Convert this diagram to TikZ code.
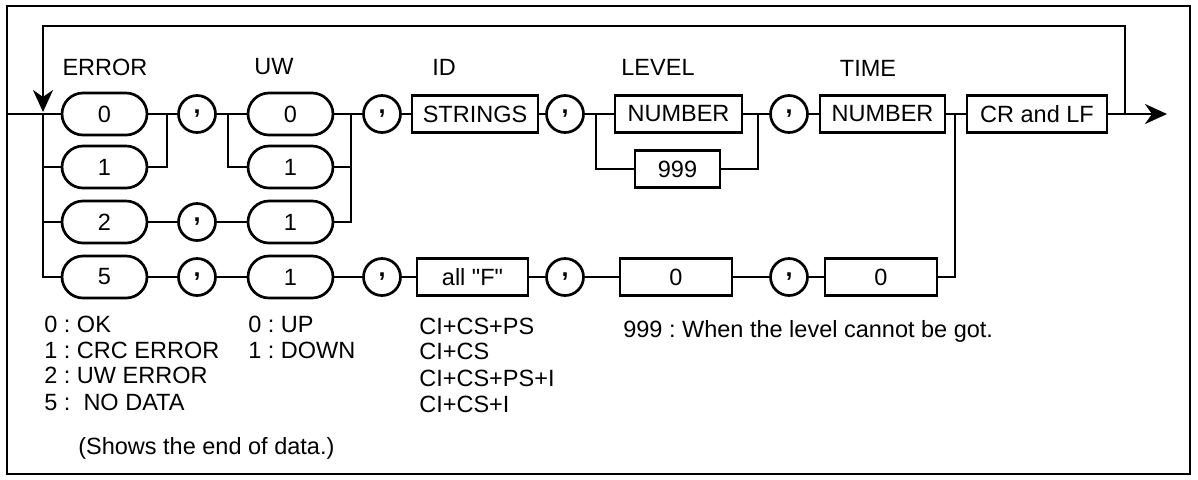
\documentclass[tikz,border=0pt]{standalone}
\usepackage{fontspec}
\setmainfont{Liberation Sans}[Ligatures=TeXOff]
\usetikzlibrary{arrows.meta}
\frenchspacing
\begin{document}
\frenchspacing
\begin{tikzpicture}[x=0.5pt,y=-0.5pt,line width=1.35pt,
  font=\fontsize{11.75}{14}\selectfont,
  capsule/.style={draw,rounded corners=10.5pt,minimum width=42.5pt,minimum height=21pt,inner sep=0pt},
  commacirc/.style={draw,circle,minimum size=18.5pt,inner sep=0pt,font=\fontsize{12.5}{14}\selectfont\bfseries},
  boxnode/.style={draw,minimum height=18.5pt,inner sep=0pt},
  labelnode/.style={inner sep=0pt},
  notetext/.style={inner sep=0pt,anchor=base west},
  arrowline/.style={-{Stealth[length=11pt,width=10pt,inset=3.5pt]}}]
\useasboundingbox (0,0) rectangle (1198,479);
% frame
\draw[line width=1.4pt] (7,6) rectangle (1190,474);

% labels
\node[labelnode] (lerr) at (105,67) {ERROR};
\node[labelnode] (luw) at (274,67) {UW};
\node[labelnode] (lid) at (444,67) {ID};
\node[labelnode] (llev) at (658,67) {LEVEL};
\node[labelnode] (ltime) at (868,68) {TIME};

% error column
\node[capsule] (e0) at (104.5,114) {0};
\node[capsule] (e1) at (104.5,167) {1};
\node[capsule] (e2) at (104.5,222) {2};
\node[capsule] (e5) at (104.5,277) {5};
% commas after error
\node[commacirc] (c1) at (197,114) {,};
\node[commacirc] (c2r) at (197,222) {,};
\node[commacirc] (c5a) at (197,277) {,};
% uw column
\node[capsule] (u0) at (290.5,114) {0};
\node[capsule] (u1) at (290.5,167) {1};
\node[capsule] (u2) at (290.5,222) {1};
\node[capsule] (u5) at (290.5,277) {1};
\node[commacirc] (c2) at (382,114) {,};
\node[commacirc] (c5b) at (382,277) {,};
% id
\node[boxnode,minimum width=63pt] (str) at (475,114) {STRINGS};
\node[boxnode,minimum width=55.5pt] (allf) at (472.5,277) {all "F"};
\node[commacirc] (c3) at (565,114) {,};
\node[commacirc] (c5c) at (565,277) {,};
% level
\node[boxnode,minimum width=63.5pt] (num) at (678.5,114) {NUMBER};
\node[boxnode,minimum width=42.5pt] (n999) at (677.5,169) {999};
\node[boxnode,minimum width=56pt] (z1) at (676,277) {0};
\node[commacirc] (c4) at (789,114) {,};
\node[commacirc] (c5d) at (789,277) {,};
% time
\node[boxnode,minimum width=62.5pt] (tnum) at (882.5,114) {NUMBER};
\node[boxnode,minimum width=56pt] (z2) at (881,277) {0};
\node[boxnode,minimum width=70pt] (crlf) at (1037,114) {CR and LF};

% coordinates
\coordinate (start) at (7,114);
\coordinate (bl) at (43,114);
\coordinate (bl1) at (43,167);
\coordinate (bl2) at (43,222);
\coordinate (bl5) at (43,277);
\coordinate (eb0) at (167,114);
\coordinate (eb1) at (167,167);
\coordinate (ub0) at (228,114);
\coordinate (ub1) at (228,167);
\coordinate (ur0) at (351,114);
\coordinate (ur1) at (351,167);
\coordinate (ur2) at (351,222);
\coordinate (lv0) at (596,114);
\coordinate (lv1) at (596,169);
\coordinate (lr0) at (758,114);
\coordinate (lr1) at (758,169);
\coordinate (tj) at (955,114);
\coordinate (tj5) at (955,277);
\coordinate (lp) at (1125,114);
\coordinate (lpt) at (1125,26);
\coordinate (lpl) at (43,26);
\coordinate (lend) at (43,112);
\coordinate (out) at (1167,114);

% connectors
\draw (start) -- (bl) -- (e0.west);
\draw (bl) -- (bl5) -- (e5.west);
\draw (bl1) -- (e1.west);
\draw (bl2) -- (e2.west);
\draw (e0.east) -- (eb0) -- (c1.west);
\draw (e1.east) -- (eb1) -- (eb0);
\draw (c1.east) -- (ub0) -- (u0.west);
\draw (ub0) -- (ub1) -- (u1.west);
\draw (u0.east) -- (ur0) -- (c2.west);
\draw (u1.east) -- (ur1);
\draw (u2.east) -- (ur2) -- (ur0);
\draw (e2.east) -- (c2r.west);
\draw (c2r.east) -- (u2.west);
\draw (c2.east) -- (str.west);
\draw (str.east) -- (c3.west);
\draw (c3.east) -- (lv0) -- (num.west);
\draw (lv0) -- (lv1) -- (n999.west);
\draw (num.east) -- (lr0) -- (c4.west);
\draw (n999.east) -- (lr1) -- (lr0);
\draw (c4.east) -- (tnum.west);
\draw (tnum.east) -- (tj) -- (crlf.west);
\draw (e5.east) -- (c5a.west);
\draw (c5a.east) -- (u5.west);
\draw (u5.east) -- (c5b.west);
\draw (c5b.east) -- (allf.west);
\draw (allf.east) -- (c5c.west);
\draw (c5c.east) -- (z1.west);
\draw (z1.east) -- (c5d.west);
\draw (c5d.east) -- (z2.west);
\draw (z2.east) -- (tj5) -- (tj);
\draw[arrowline] (crlf.east) -- (out);
\draw[arrowline] (lp) -- (lpt) -- (lpl) -- (lend);

% notes
\node[notetext] (n0) at (43,332) {0 : OK};
\node[notetext] (n1) at (43,358) {1 : CRC ERROR};
\node[notetext] (n2) at (43,383) {2 : UW ERROR};
\node[notetext] (n5) at (43,410) {5 :\ \ NO DATA};
\node[notetext] (nend) at (77,454) {(Shows the end of data.)};
\node[notetext] (nu0) at (247,332) {0 : UP};
\node[notetext] (nu1) at (247,358) {1 : DOWN};
\node[notetext] (ci1) at (418,334) {CI+CS+PS};
\node[notetext] (ci2) at (418,359) {CI+CS};
\node[notetext] (ci3) at (418,386) {CI+CS+PS+I};
\node[notetext] (ci4) at (418,412) {CI+CS+I};
\node[notetext] (n999t) at (622,337) {999 : When the level cannot be got.};
\end{tikzpicture}
\end{document}
